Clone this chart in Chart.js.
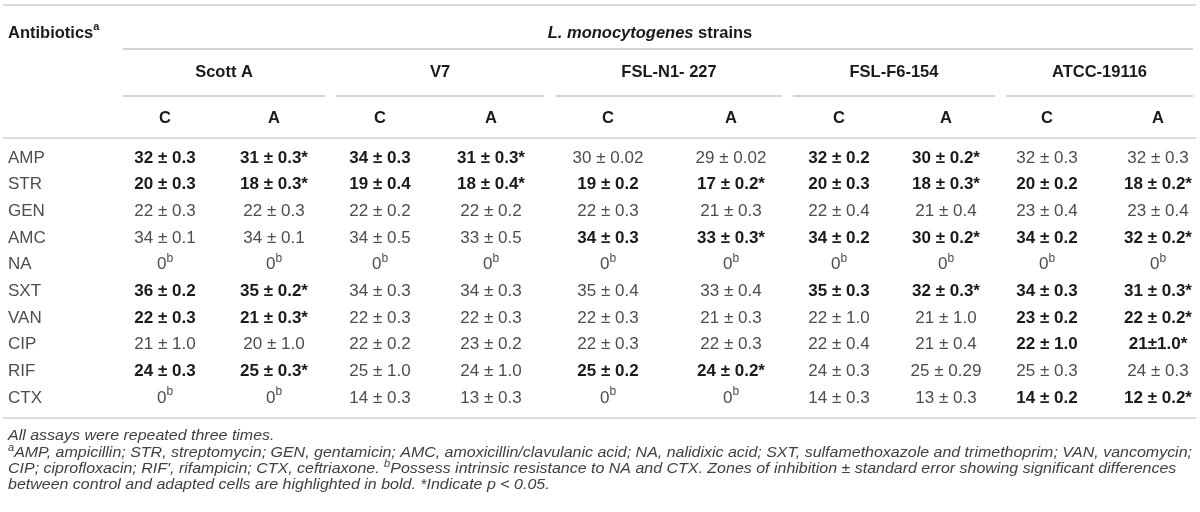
<html>
  <head>
    <script src="https://cdn.jsdelivr.net/npm/chart.js"></script>
    <style>
      body { margin: 0; background: #fff; }
    </style>
  </head>

  <body>
    <canvas id="myChart" width="1200" height="512"></canvas>
    <script>
      // table content
      const antibiotics = ["AMP", "STR", "GEN", "AMC", "NA", "SXT", "VAN", "CIP", "RIF", "CTX"]
      const strains = ["Scott A", "V7", "FSL-N1- 227", "FSL-F6-154", "ATCC-19116"]
      const cellTypes = ["C", "A"]

      // zones of inhibition (mm), control / adapted, per strain
      const scottA_C = ["32 ± 0.3", "20 ± 0.3", "22 ± 0.3", "34 ± 0.1", "0^b", "36 ± 0.2", "22 ± 0.3", "21 ± 1.0", "24 ± 0.3", "0^b"]
      const scottA_A = ["31 ± 0.3*", "18 ± 0.3*", "22 ± 0.3", "34 ± 0.1", "0^b", "35 ± 0.2*", "21 ± 0.3*", "20 ± 1.0", "25 ± 0.3*", "0^b"]
      const v7_C = ["34 ± 0.3", "19 ± 0.4", "22 ± 0.2", "34 ± 0.5", "0^b", "34 ± 0.3", "22 ± 0.3", "22 ± 0.2", "25 ± 1.0", "14 ± 0.3"]
      const v7_A = ["31 ± 0.3*", "18 ± 0.4*", "22 ± 0.2", "33 ± 0.5", "0^b", "34 ± 0.3", "22 ± 0.3", "23 ± 0.2", "24 ± 1.0", "13 ± 0.3"]
      const fslN1_C = ["30 ± 0.02", "19 ± 0.2", "22 ± 0.3", "34 ± 0.3", "0^b", "35 ± 0.4", "22 ± 0.3", "22 ± 0.3", "25 ± 0.2", "0^b"]
      const fslN1_A = ["29 ± 0.02", "17 ± 0.2*", "21 ± 0.3", "33 ± 0.3*", "0^b", "33 ± 0.4", "21 ± 0.3", "22 ± 0.3", "24 ± 0.2*", "0^b"]
      const fslF6_C = ["32 ± 0.2", "20 ± 0.3", "22 ± 0.4", "34 ± 0.2", "0^b", "35 ± 0.3", "22 ± 1.0", "22 ± 0.4", "24 ± 0.3", "14 ± 0.3"]
      const fslF6_A = ["30 ± 0.2*", "18 ± 0.3*", "21 ± 0.4", "30 ± 0.2*", "0^b", "32 ± 0.3*", "21 ± 1.0", "21 ± 0.4", "25 ± 0.29", "13 ± 0.3"]
      const atcc_C = ["32 ± 0.3", "20 ± 0.2", "23 ± 0.4", "34 ± 0.2", "0^b", "34 ± 0.3", "23 ± 0.2", "22 ± 1.0", "25 ± 0.3", "14 ± 0.2"]
      const atcc_A = ["32 ± 0.3", "18 ± 0.2*", "23 ± 0.4", "32 ± 0.2*", "0^b", "31 ± 0.3*", "22 ± 0.2*", "21±1.0*", "24 ± 0.3", "12 ± 0.2*"]

      // rows with significant differences (bold), per strain
      const boldScottA = [1, 1, 0, 0, 0, 1, 1, 0, 1, 0]
      const boldV7 = [1, 1, 0, 0, 0, 0, 0, 0, 0, 0]
      const boldFslN1 = [0, 1, 0, 1, 0, 0, 0, 0, 1, 0]
      const boldFslF6 = [1, 1, 0, 1, 0, 1, 0, 0, 0, 0]
      const boldAtcc = [0, 1, 0, 1, 0, 1, 1, 1, 0, 1]

      const strainValues = [
        [scottA_C, scottA_A],
        [v7_C, v7_A],
        [fslN1_C, fslN1_A],
        [fslF6_C, fslF6_A],
        [atcc_C, atcc_A]
      ]
      const strainBold = [boldScottA, boldV7, boldFslN1, boldFslF6, boldAtcc]

      const footnotes = [
        "All assays were repeated three times.",
        "^aAMP, ampicillin; STR, streptomycin; GEN, gentamicin; AMC, amoxicillin/clavulanic acid; NA, nalidixic acid; SXT, sulfamethoxazole and trimethoprim; VAN, vancomycin;",
        "CIP; ciprofloxacin; RIF', rifampicin; CTX, ceftriaxone. ^bPossess intrinsic resistance to NA and CTX. Zones of inhibition ± standard error showing significant differences",
        "between control and adapted cells are highlighted in bold. *Indicate p < 0.05."
      ]

      // layout (in scale units = pixels of the 1200x512 frame)
      const colCenters = [165, 274, 380, 491, 608, 731, 839, 946, 1047, 1158]
      const strainSpans = [[123, 325], [336, 544], [556, 782], [793, 995], [1006, 1193]]
      const labelX = 8
      const rowY = (i) => 158 + i * 26.67
      const headY = { title: 33, strain: 72, type: 118 }
      const ruleY = { top: 5, group: 49, strain: 96, head: 138, bottom: 418 }
      const footY = [436, 453, 469, 485]
      const footRight = 1192

      const FONT = '"Liberation Sans", Arial, Helvetica, sans-serif'
      const DARK = "#1a1a1a"
      const GREY = "#4d4d4d"

      function font(style, weight, size) {
        return `${style} ${weight} ${size}px ${FONT}`
      }

      // width of text where "^x" marks a one-letter superscript
      function richWidth(ctx, text, style, weight, size) {
        const parts = text.split(/\^(.)/)
        let total = 0
        parts.forEach(function (p, i) {
          ctx.font = font(style, weight, i % 2 ? Math.round(size * 0.68) : size)
          total += ctx.measureText(p).width
        })
        return total
      }

      function drawRich(ctx, text, x, y, align, style, weight, size, color) {
        const parts = text.split(/\^(.)/)
        const total = richWidth(ctx, text, style, weight, size)
        let cx = x
        if (align === "center") cx = x - total / 2
        if (align === "right") cx = x - total
        ctx.fillStyle = color
        ctx.textAlign = "left"
        ctx.textBaseline = "middle"
        parts.forEach(function (p, i) {
          ctx.font = font(style, weight, i % 2 ? Math.round(size * 0.68) : size)
          ctx.fillText(p, cx, i % 2 ? y - size * 0.36 : y)
          cx += ctx.measureText(p).width
        })
      }

      const cells = []
      strains.forEach(function (s, si) {
        cellTypes.forEach(function (t, ti) {
          strainValues[si][ti].forEach(function (v, ri) {
            cells.push({ x: colCenters[si * 2 + ti], y: rowY(ri), label: v, bold: strainBold[si][ri] === 1 })
          })
        })
      })
      const rowLabels = antibiotics.map(function (a, ri) {
        return { x: labelX, y: rowY(ri), label: a }
      })

      const tablePlugin = {
        id: "tableText",
        afterDatasetsDraw(chart) {
          const ctx = chart.ctx
          const xs = chart.scales.x
          const ys = chart.scales.y
          const px = (v) => xs.getPixelForValue(v)
          const py = (v) => ys.getPixelForValue(v)
          ctx.save()

          // rules
          function rule(x0, x1, y, color, width) {
            ctx.beginPath()
            ctx.strokeStyle = color
            ctx.lineWidth = width
            ctx.moveTo(px(x0), py(y))
            ctx.lineTo(px(x1), py(y))
            ctx.stroke()
          }
          rule(3, 1196, ruleY.top, "#cfcfcf", 1.5)
          rule(123, 1193, ruleY.group, "#a9a9a9", 1)
          strainSpans.forEach(function (sp) {
            rule(sp[0], sp[1], ruleY.strain, "#a9a9a9", 1)
          })
          rule(3, 1196, ruleY.head, "#cfcfcf", 1.5)
          rule(3, 1196, ruleY.bottom, "#cfcfcf", 1.5)

          // header
          const hs = 16.5
          drawRich(ctx, "Antibiotics^a", px(labelX), py(headY.title), "left", "normal", "bold", hs, DARK)
          const w1 = richWidth(ctx, "L. monocytogenes", "italic", "bold", hs)
          const w2 = richWidth(ctx, " strains", "normal", "bold", hs)
          const gx = px(650) - (w1 + w2) / 2
          drawRich(ctx, "L. monocytogenes", gx, py(headY.title), "left", "italic", "bold", hs, DARK)
          drawRich(ctx, " strains", gx + w1, py(headY.title), "left", "normal", "bold", hs, DARK)
          strains.forEach(function (s, si) {
            const sp = strainSpans[si]
            drawRich(ctx, s, px((sp[0] + sp[1]) / 2), py(headY.strain), "center", "normal", "bold", hs, DARK)
            cellTypes.forEach(function (t, ti) {
              drawRich(ctx, t, px(colCenters[si * 2 + ti]), py(headY.type), "center", "normal", "bold", hs, DARK)
            })
          })

          // row labels and cells, placed at the dataset points
          chart.getDatasetMeta(0).data.forEach(function (el, i) {
            drawRich(ctx, rowLabels[i].label, el.x, el.y, "left", "normal", "normal", 17, GREY)
          })
          chart.getDatasetMeta(1).data.forEach(function (el, i) {
            const c = cells[i]
            if (c.bold) drawRich(ctx, c.label, el.x, el.y, "center", "normal", "bold", 17, DARK)
            else drawRich(ctx, c.label, el.x, el.y, "center", "normal", "normal", 17, GREY)
          })

          // footnotes, stretched so the longest line spans the table
          const fs = 14.5
          const stretch = (px(footRight) - px(labelX)) / richWidth(ctx, footnotes[1], "italic", "normal", fs)
          footnotes.forEach(function (f, i) {
            ctx.save()
            ctx.translate(px(labelX), 0)
            ctx.scale(stretch, 1)
            drawRich(ctx, f, 0, py(footY[i]), "left", "italic", "normal", fs, "#404040")
            ctx.restore()
          })
          ctx.restore()
        }
      }

      const config = {
        type: "scatter",
        data: {
          datasets: [
            { label: "Antibiotics", data: rowLabels, pointRadius: 0, showLine: false },
            { label: "Zones", data: cells, pointRadius: 0, showLine: false }
          ]
        },
        options: {
          responsive: false,
          animation: false,
          layout: { padding: 0 },
          plugins: { legend: { display: false }, tooltip: { enabled: false } },
          scales: {
            x: { type: "linear", min: 0, max: 1200, display: false },
            y: { type: "linear", min: 0, max: 512, reverse: true, display: false }
          }
        },
        plugins: [tablePlugin]
      }
      const myChart = new Chart(document.getElementById("myChart"), config)
    </script>
  </body>
</html>
